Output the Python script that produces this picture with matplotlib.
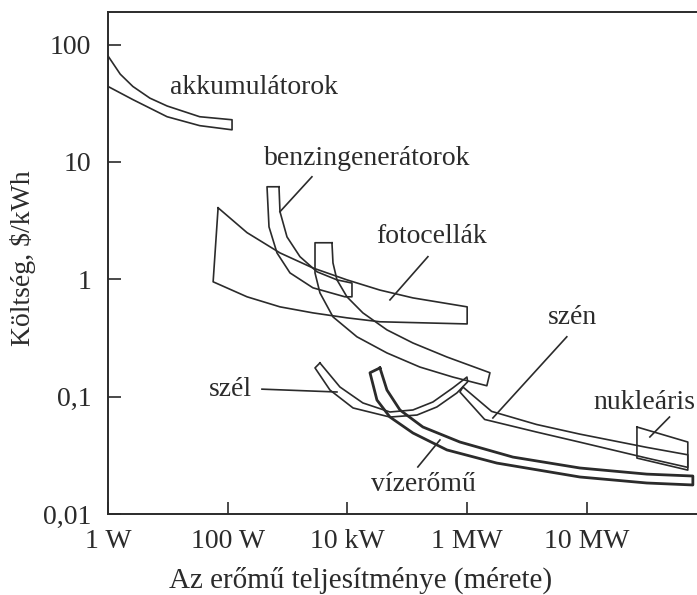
import numpy as np
import matplotlib
matplotlib.use("Agg")
import matplotlib.pyplot as plt

plt.rcParams['font.family'] = ['Liberation Serif', 'DejaVu Serif']

# tick values on the axes
x_ticks = [1, 1e2, 1e4, 1e6, 1e7]
x_labels = ["1 W", "100 W", "10 kW", "1 MW", "10 MW"]
y_ticks = [0.01, 0.1, 1, 10, 100]
y_labels = ["0,01", "0,1", "1", "10", "100"]

# each band: upper edge and lower edge (left -> right), power in W, cost in $/kWh
akku_w_up = [1, 1.6, 2.6, 5, 9.7, 34, 118]
akku_c_up = [80, 56, 44, 35, 30, 24.3, 22.9]
akku_w_lo = [1, 2.6, 9.7, 34, 118]
akku_c_lo = [44, 34, 24.3, 20.4, 18.8]

foto_w_up = [69, 210, 746, 2650, 9800, 34900, 124000, 1.0e6]
foto_c_up = [4.07, 2.5, 1.68, 1.25, 0.99, 0.81, 0.695, 0.583]
foto_w_lo = [57, 210, 746, 2650, 9800, 34900, 1.0e6]
foto_c_lo = [0.953, 0.71, 0.583, 0.518, 0.47, 0.435, 0.417]

benz_w_up = [718, 746, 977, 1610, 3100, 6680, 11900]
benz_c_up = [6.15, 3.77, 2.3, 1.56, 1.16, 0.99, 0.93]
benz_w_lo = [453, 489, 665, 1096, 2650, 9080, 11900]
benz_c_lo = [6.15, 2.8, 1.68, 1.135, 0.847, 0.71, 0.71]

dies_w_up = [5510, 5730, 6680, 9800, 18100, 45700, 124000, 459000, 1.55e6]
dies_c_up = [2.05, 1.38, 0.99, 0.71, 0.518, 0.371, 0.287, 0.218, 0.16]
dies_w_lo = [2870, 2870, 3470, 5730, 14400, 45700, 162000, 578000, 1.46e6]
dies_c_lo = [2.05, 1.135, 0.767, 0.479, 0.324, 0.236, 0.179, 0.147, 0.124]

szel_w_up = [3470, 7490, 18100, 51300, 124000, 268000, 578000, 991000]
szel_c_up = [0.194, 0.121, 0.0885, 0.0741, 0.0771, 0.0902, 0.119, 0.147]
szel_w_lo = [2870, 5100, 12400, 51300, 145000, 312000, 674000, 1.01e6]
szel_c_lo = [0.176, 0.114, 0.0802, 0.0671, 0.0698, 0.0818, 0.1077, 0.134]

viz_w_up = [34900, 45700, 75300, 182000, 757000, 2.41e6, 8.74e6, 3.17e7, 7.68e7]
viz_c_up = [0.176, 0.114, 0.0771, 0.0552, 0.0411, 0.0306, 0.0247, 0.0219, 0.0211]
viz_w_lo = [23800, 31100, 51300, 124000, 459000, 1.77e6, 8.74e6, 3.17e7, 7.68e7]
viz_c_lo = [0.160, 0.0937, 0.0671, 0.0491, 0.0352, 0.0272, 0.0207, 0.0184, 0.0177]

szen_w_up = [849000, 1.6e6, 3.8e6, 8.74e6, 3.17e7, 6.97e7]
szen_c_up = [0.121, 0.075, 0.058, 0.048, 0.037, 0.032]
szen_w_lo = [757000, 1.4e6, 3.8e6, 8.74e6, 3.17e7, 6.97e7]
szen_c_lo = [0.1097, 0.064, 0.050, 0.041, 0.030, 0.025]

nukl_w_up = [2.62e7, 6.97e7]
nukl_c_up = [0.0552, 0.0411]
nukl_w_lo = [2.62e7, 6.97e7]
nukl_c_lo = [0.0300, 0.0237]

bands = [
    (akku_w_up, akku_c_up, akku_w_lo, akku_c_lo, 1.2),
    (foto_w_up, foto_c_up, foto_w_lo, foto_c_lo, 1.2),
    (benz_w_up, benz_c_up, benz_w_lo, benz_c_lo, 1.2),
    (dies_w_up, dies_c_up, dies_w_lo, dies_c_lo, 1.2),
    (szel_w_up, szel_c_up, szel_w_lo, szel_c_lo, 1.2),
    (viz_w_up, viz_c_up, viz_w_lo, viz_c_lo, 2.0),
    (szen_w_up, szen_c_up, szen_w_lo, szen_c_lo, 1.2),
    (nukl_w_up, nukl_c_up, nukl_w_lo, nukl_c_lo, 1.2),
]

# label text, anchor (W, $/kWh), horizontal alignment
labels = [
    ("akkumulátorok", 10.8, 43, "left"),
    ("benzingenerátorok", 21000, 10.8, "center"),
    ("fotocellák", 258000, 2.3, "center"),
    ("szél", 110, 0.116, "center"),
    ("szén", 7.6e6, 0.47, "center"),
    ("nukleáris", 8.1e7, 0.0885, "right"),
    ("vízerőmű", 183000, 0.0177, "center"),
]

# leader lines from labels to bands
leaders = [
    ((2550, 7.48), (746, 3.77)),
    ((221000, 1.56), (51300, 0.668)),
    ((373, 0.116), (6680, 0.1097)),
    ((6.8e6, 0.324), (1.64e6, 0.0659)),
    ((4.9e7, 0.0671), (3.36e7, 0.0454)),
    ((351000, 0.0428), (150000, 0.0252)),
]


# power axis: even spacing between the labelled ticks (2 decades each, last one 1 decade)
def fwd(w):
    lw = np.log10(np.clip(w, 1e-3, None))
    return np.where(lw <= 6, lw / 2, lw - 3)


def inv(p):
    return np.where(p <= 3, 10 ** (2 * p), 10 ** (p + 3))


fig = plt.figure(figsize=(6.97, 5.95), dpi=100)
ax = fig.add_axes([0.155, 0.136, 0.845, 0.844])
ax.set_xscale("function", functions=(fwd, inv))
ax.set_yscale("log")
ax.set_xlim(1, 10 ** 7.92)
ax.set_ylim(0.01, 190)

ink = "#2b2b2b"
for wu, cu, wl, cl, lw in bands:
    xs = list(wu) + list(wl[::-1]) + [wu[0]]
    ys = list(cu) + list(cl[::-1]) + [cu[0]]
    ax.plot(xs, ys, color=ink, lw=lw, solid_joinstyle="round")

fs = 20
for txt, x, y, ha in labels:
    ax.text(x, y, txt, fontsize=fs, ha=ha, va="center", color=ink)

for (x0, y0), (x1, y1) in leaders:
    ax.plot([x0, x1], [y0, y1], color=ink, lw=1.2)

ax.set_xticks(x_ticks)
ax.set_xticklabels(x_labels)
ax.set_yticks(y_ticks)
ax.set_yticklabels(y_labels)
ax.minorticks_off()
ax.tick_params(direction="in", length=9, width=1.2, labelsize=fs, colors=ink)
ax.tick_params(axis="x", pad=11)
ax.tick_params(axis="y", pad=12)
ax.spines["right"].set_visible(False)
for s in ["left", "bottom", "top"]:
    ax.spines[s].set_linewidth(1.4)
    ax.spines[s].set_color(ink)

ax.set_xlabel("Az erőmű teljesítménye (mérete)", fontsize=fs + 1, color=ink, labelpad=4)
ax.xaxis.set_label_coords(0.428, -0.105)
ax.set_ylabel("Költség, $/kWh", fontsize=fs, color=ink)
ax.yaxis.set_label_coords(-0.122, 0.51)

fig.savefig("out.png", dpi=100)
